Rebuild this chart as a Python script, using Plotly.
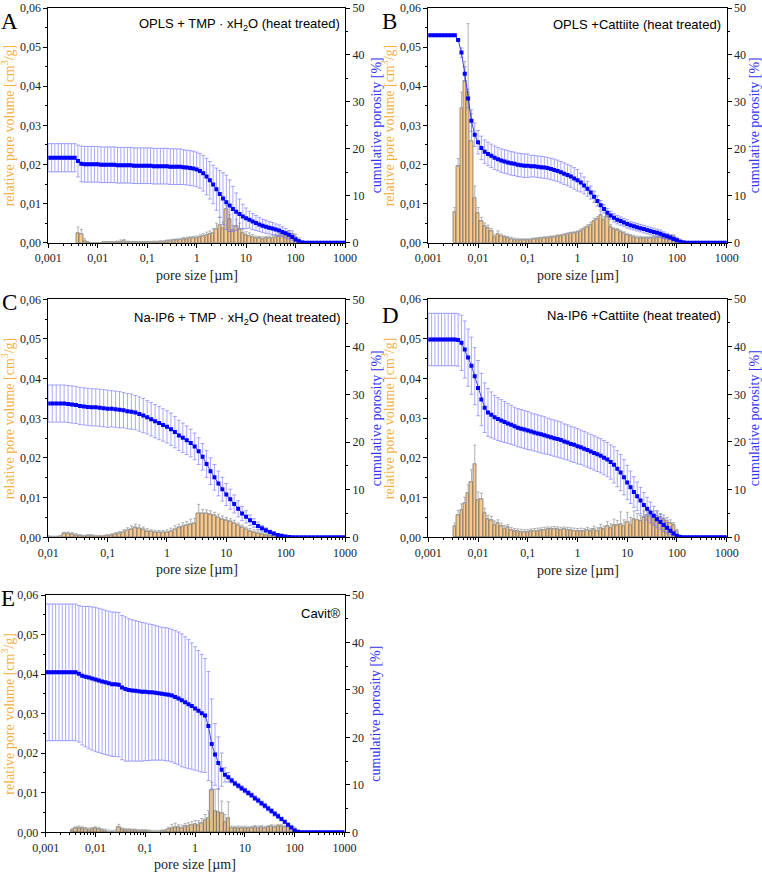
import plotly.graph_objects as go

W, H = 762, 872

# ---------------- categories (pore-size bins, 15 per decade) ----------------
pore_size = [10 ** (-3 + k / 15) for k in range(91)]

x_tick_vals = [0.001, 0.01, 0.1, 1, 10, 100, 1000]
x_tick_text = ["0,001", "0,01", "0,1", "1", "10", "100", "1000"]
vol_tick_vals = [0, 0.01, 0.02, 0.03, 0.04, 0.05, 0.06]
vol_tick_text = ["0,00", "0,01", "0,02", "0,03", "0,04", "0,05", "0,06"]
por_tick_vals = [0, 10, 20, 30, 40, 50]

letters = ["A", "B", "C", "D", "E"]
titles = [
    "OPLS + TMP · xH<sub>2</sub>O (heat treated)",
    "OPLS +Cattiite (heat treated)",
    "Na-IP6 + TMP · xH<sub>2</sub>O (heat treated)",
    "Na-IP6 +Cattiite (heat treated)",
    "Cavit®",
]

# ---------------- A ----------------
A_cum_start = 0
A_cum = [18.1] * 9 + [17.4, 16.8] + [16.7] * 5 + [16.6] * 5 + [16.5] * 5 + [16.4] * 5 + \
    [16.4, 16.3, 16.3, 16.3, 16.3, 16.3, 16.2, 16.2, 16.2, 16.2] + \
    [16.1, 16.0, 15.9, 15.8, 15.6, 15.3, 14.8, 14.1, 13.3, 12.4, 11.4, 10.4, 9.4, 8.6, 7.9,
     7.2, 6.6, 6.1, 5.6, 5.2, 4.9, 4.5, 4.2, 3.9, 3.6, 3.4, 3.2, 3.0, 2.8, 2.6, 2.3, 2.0,
     1.7, 1.2, 0.7, 0.3, 0.05] + [0] * 13
A_cum_err = [3.0] * 9 + [3.4] + [3.8] * 31 + [3.7] * 5 + [3.7, 3.8, 3.9, 4.0, 4.1] + \
    [4.5, 5.0, 5.5, 5.8, 5.5, 4.8, 4.0, 3.2, 2.6, 2.2] + \
    [1.8, 1.7, 1.6, 1.5, 1.4, 1.4, 1.3, 1.3, 1.2, 1.2, 1.1, 1.0, 0.9, 0.7, 0.4, 0.2, 0.1] + [0] * 13
A_bar_start = 9
A_bar = [0.0025, 0.0022, 0.0005, 0.0001, 0, 0, 0, 0, 0.0001, 0.0001, 0.0001, 0.0001,
         0.0002, 0.0003, 0.0004, 0.0002, 0.0001, 0.0001, 0.0001, 0.0001, 0.0001, 0.0001,
         0.0001, 0.0002, 0.0002, 0.0003, 0.0003, 0.0004, 0.0005, 0.0006, 0.0007, 0.0008,
         0.0009, 0.0010, 0.0011, 0.0012, 0.0013, 0.0015, 0.0017, 0.0020, 0.0022, 0.0026,
         0.0035, 0.0045, 0.0038, 0.0087, 0.0060, 0.0032, 0.0042, 0.0035, 0.0025, 0.0020,
         0.0018, 0.0015, 0.0012, 0.0011, 0.0010, 0.0011, 0.0012, 0.0013, 0.0015, 0.0017,
         0.0020, 0.0021, 0.0022, 0.0021, 0.0015, 0.0008, 0.0003]
A_bar_err = [0.0015, 0.0012, 0.0005, 0.0001, 0, 0, 0, 0] + [0.0001] * 4 + \
    [0.0002, 0.0004, 0.0004, 0.0002] + [0.0001] * 7 + [0.0002] * 4 + [0.0003] * 5 + [0.0004] * 5 + \
    [0.0005, 0.0006, 0.0007, 0.0008, 0.001, 0.0015, 0.002, 0.0015, 0.0008, 0.0012, 0.0012,
     0.0018, 0.0015, 0.001, 0.0008, 0.0007, 0.0006] + [0.0005] * 5 + [0.0006] * 5 + \
    [0.0008, 0.0009, 0.0007, 0.0004, 0.0002]

# ---------------- B ----------------
B_cum_start = 0
B_cum = [44.2] * 9 + [43.2, 40.5, 36.0, 30.7, 26.0, 23.0, 21.4, 20.2, 19.4, 18.9, 18.5, 18.1,
                      17.8, 17.5, 17.3, 17.1, 16.9, 16.8, 16.6, 16.5, 16.4, 16.4, 16.3, 16.3,
                      16.2, 16.1, 16.0, 15.9, 15.7, 15.5, 15.3, 15.0, 14.7, 14.4, 14.1, 13.7,
                      13.3, 12.8, 12.2, 11.5, 10.7, 9.8, 8.9, 8.0, 7.2, 6.4, 5.8, 5.3, 4.9,
                      4.6, 4.3, 4.0, 3.7, 3.5, 3.3, 3.1, 2.9, 2.7, 2.5, 2.3, 2.1, 1.9, 1.6,
                      1.4, 1.1, 0.8, 0.5, 0.2, 0.05] + [0] * 13
B_cum_err = [0] * 10 + [1.0, 1.5, 2.0, 2.3, 2.5] + [2.5] * 16 + [2.3] * 15 + \
    [2.0, 1.8, 1.6, 1.4, 1.2, 1.1, 1.0] + [0.9] * 8 + [0.8] * 10 + \
    [0.7, 0.6, 0.5, 0.4, 0.3, 0.2, 0.1] + [0] * 13
B_bar_start = 8
B_bar = [0.0078, 0.0195, 0.0345, 0.0413, 0.0385, 0.0260, 0.0115, 0.0075, 0.0055, 0.0042,
         0.0038, 0.0030, 0.0015, 0.0022, 0.0018, 0.0014, 0.0012, 0.0010, 0.0008, 0.0007,
         0.0006, 0.0006, 0.0007, 0.0008, 0.0009, 0.0010, 0.0011, 0.0012, 0.0013, 0.0014,
         0.0015, 0.0017, 0.0018, 0.0020, 0.0022, 0.0024, 0.0025, 0.0027, 0.0030, 0.0035,
         0.0040, 0.0045, 0.0055, 0.0060, 0.0070, 0.0058, 0.0068, 0.0040, 0.0034, 0.0032,
         0.0028, 0.0024, 0.0020, 0.0017, 0.0015, 0.0013, 0.0012, 0.0011, 0.0011, 0.0011,
         0.0012, 0.0013, 0.0014, 0.0015, 0.0016, 0.0017, 0.0016, 0.0010, 0.0005, 0.0002]
B_bar_err = [0.0012, 0.002, 0.004, 0.005, 0.0175, 0.007, 0.003, 0.0015, 0.001, 0.0008,
             0.0007, 0.0006, 0.0005, 0.0008] + [0.0004] * 8 + [0.0003] * 16 + \
    [0.0005, 0.0005, 0.0006, 0.0007, 0.0008, 0.0007, 0.0010, 0.0008, 0.0009, 0.0006] + [0.0004] * 22

# ---------------- C ----------------
C_cum_start = 15
C_cum = [28.1] * 5 + [28.0, 27.9, 27.8, 27.6, 27.5, 27.4, 27.3, 27.3, 27.2, 27.1, 27.0, 27.0,
                      26.9, 26.8, 26.7, 26.5, 26.4, 26.2, 25.9, 25.6, 25.2, 24.8, 24.4, 24.0,
                      23.6, 23.2, 22.7, 22.1, 21.4, 20.9, 20.4, 19.8, 19.1, 18.1, 16.9, 15.4,
                      13.9, 12.6, 11.3, 10.1, 9.0, 8.0, 7.0, 6.0, 5.0, 4.3, 3.6, 3.0, 2.4, 1.9,
                      1.5, 1.1, 0.8, 0.5, 0.3, 0.15, 0.05] + [0] * 14
C_cum_err = [3.9] * 16 + [3.8, 3.8, 3.8, 3.7, 3.7, 3.7, 3.6, 3.6, 3.6, 3.5, 3.5, 3.5, 3.5, 3.4, 3.4] + \
    [3.4, 3.3, 3.2, 3.1, 3.0, 2.9, 2.8, 2.8, 2.8, 2.8] + [2.8, 2.7, 2.6, 2.5, 2.3, 2.1, 1.9, 1.7] + \
    [1.5, 1.3, 1.1, 0.9, 0.8, 0.6, 0.5] + [0.4, 0.3, 0.2, 0.2, 0.1, 0.05] + [0] * 14
C_bar_start = 15
C_bar = [0.0002, 0.0001, 0.0001, 0.0002, 0.0009, 0.0009, 0.0008, 0.0005, 0.0004, 0.0003,
         0.0004, 0.0004, 0.0003, 0.0003, 0.0003, 0.0004, 0.0006, 0.0008, 0.0010, 0.0013,
         0.0017, 0.0021, 0.0024, 0.0023, 0.0019, 0.0016, 0.0014, 0.0013, 0.0012, 0.0012,
         0.0013, 0.0016, 0.0021, 0.0024, 0.0027, 0.0030, 0.0034, 0.0036, 0.0061, 0.0060,
         0.0060, 0.0058, 0.0055, 0.0050, 0.0046, 0.0043, 0.0040, 0.0036, 0.0030, 0.0025,
         0.0020, 0.0016, 0.0013, 0.0010, 0.0008, 0.0006, 0.0005, 0.0004, 0.0004, 0.0003,
         0.0002, 0.0001]
C_bar_err = [0.0002] * 4 + [0.0004] * 4 + [0.0002] * 8 + \
    [0.0003, 0.0004, 0.0005, 0.0006, 0.0007, 0.0008, 0.0009, 0.0008, 0.0007, 0.0006] + \
    [0.0005] * 4 + [0.0006, 0.0007, 0.0008, 0.0009, 0.001, 0.001, 0.0012, 0.0012] + \
    [0.0022, 0.0010, 0.0009, 0.0009, 0.0008, 0.0008, 0.0008, 0.0007, 0.0007, 0.0007] + \
    [0.0006] * 6 + [0.0005] * 4 + [0.0003] * 4

# ---------------- D ----------------
D_cum_start = 0
D_cum = [41.5] * 9 + [41.4, 40.8, 39.4, 37.7, 36.0, 33.8, 31.3, 28.9, 27.2, 26.2, 25.7, 25.2,
                      24.8, 24.5, 24.2, 23.9, 23.6, 23.3, 23.0, 22.8, 22.6, 22.4, 22.2, 22.0,
                      21.8, 21.6, 21.4, 21.2, 21.0, 20.8, 20.6, 20.4, 20.1, 19.9, 19.6, 19.4,
                      19.1, 18.9, 18.6, 18.3, 18.0, 17.7, 17.4, 17.1, 16.7, 16.3, 15.8, 15.2,
                      14.4, 13.6, 12.6, 11.5, 10.5, 9.5, 8.6, 7.7, 6.8, 6.0, 5.2, 4.5, 3.8,
                      3.2, 2.6, 2.0, 1.4, 0.8, 0.3, 0.05] + [0] * 14
D_cum_err = [5.5] * 10 + [5.8, 6.0, 6.0, 6.0, 6.0, 5.8] + [5.5, 5.2, 5.0, 4.8, 4.6] + \
    [4.5, 4.4, 4.3, 4.2, 4.1, 4.0, 4.0, 4.0, 4.0, 4.0] + [3.9] * 5 + [3.8] * 5 + [3.7] * 5 + \
    [3.6] * 10 + [3.8, 3.8, 3.8, 3.7, 3.6] + [3.4, 3.2, 3.0, 2.8, 2.6, 2.4, 2.2, 2.0, 1.8, 1.6] + \
    [1.4, 1.1, 0.8, 0.5, 0.2, 0.05] + [0] * 14
D_bar_start = 8
D_bar = [0.0028, 0.0056, 0.0069, 0.0086, 0.0112, 0.0140, 0.0185, 0.0094, 0.0096, 0.0061,
         0.0045, 0.0043, 0.0032, 0.0035, 0.0028, 0.0022, 0.0025, 0.0018, 0.0016, 0.0015,
         0.0014, 0.0013, 0.0014, 0.0015, 0.0016, 0.0017, 0.0018, 0.0019, 0.0020, 0.0020,
         0.0021, 0.0020, 0.0019, 0.0020, 0.0019, 0.0018, 0.0017, 0.0016, 0.0017, 0.0016,
         0.0018, 0.0016, 0.0020, 0.0017, 0.0024, 0.0020, 0.0028, 0.0024, 0.0031, 0.0030,
         0.0034, 0.0029, 0.0038, 0.0032, 0.0046, 0.0044, 0.0040, 0.0052, 0.0055, 0.0053,
         0.0056, 0.0054, 0.0050, 0.0047, 0.0042, 0.0036, 0.0030, 0.0015, 0.0004]
D_bar_err = [0.0008, 0.0012, 0.0015, 0.0015, 0.002, 0.003, 0.0047, 0.002, 0.0015, 0.0012] + \
    [0.0010, 0.0010, 0.0009, 0.0009, 0.0008, 0.0008, 0.0007, 0.0007, 0.0006, 0.0006] + [0.0006] * 20 + \
    [0.0007, 0.0006, 0.0008, 0.0007, 0.0009, 0.0008, 0.0012, 0.0010, 0.0015, 0.0012] + \
    [0.0030, 0.0015, 0.0025, 0.0018, 0.0020, 0.0016, 0.0015, 0.0014, 0.0012, 0.0012] + \
    [0.0010, 0.0010, 0.0010, 0.0009, 0.0008, 0.0008, 0.0007, 0.0005, 0.0002]

# ---------------- E ----------------
E_cum_start = 0
E_cum = [33.7] * 10 + [33.4, 33.0, 32.8, 32.6, 32.4, 32.2, 32.0, 31.8, 31.6, 31.4, 31.2, 31.2,
                       31.1, 30.5, 30.2, 30.0, 29.9, 29.8, 29.7, 29.6, 29.6, 29.5, 29.5, 29.4,
                       29.3, 29.2, 29.1, 29.0, 28.8, 28.5, 28.2, 27.8, 27.4, 27.0, 26.6, 26.1,
                       25.6, 25.1, 24.6, 22.4, 18.6, 16.4, 14.6, 13.2, 12.1, 11.6, 10.9, 10.3,
                       9.8, 9.3, 8.8, 8.3, 7.8, 7.2, 6.7, 6.1, 5.6, 5.0, 4.5, 3.9, 3.4, 2.8,
                       2.2, 1.6, 1.0, 0.4, 0.05] + [0] * 14
E_cum_err = [14.4] * 10 + [14.4, 14.6, 14.8, 15.0, 15.1] + [15.2] * 10 + \
    [15.0, 14.9, 14.8, 14.7, 14.6, 14.5] + [14.4, 14.3, 14.2, 14.1] + [14.0] * 6 + \
    [14.0, 13.8, 13.6, 13.3, 13.0, 12.7, 12.4, 12.0, 11.5] + [9.5, 6.5, 5.5, 3.5, 1.5, 1.0] + \
    [0.5] * 15 + [0.4, 0.3, 0.3, 0.2, 0.1, 0.05] + [0] * 14
E_bar_start = 8
E_bar = [0.0005, 0.0010, 0.0012, 0.0010, 0.0008, 0.0007, 0.0008, 0.0010, 0.0008, 0.0005,
         0.0004, 0.0002, 0.0001, 0.0002, 0.0014, 0.0008, 0.0006, 0.0006, 0.0005, 0.0005,
         0.0004, 0.0004, 0.0004, 0.0003, 0.0002, 0.0002, 0.0002, 0.0003, 0.0004, 0.0008,
         0.0012, 0.0014, 0.0013, 0.0012, 0.0015, 0.0016, 0.0018, 0.0020, 0.0019, 0.0023,
         0.0030, 0.0035, 0.0107, 0.0054, 0.0052, 0.0049, 0.0025, 0.0037, 0.0012, 0.0011,
         0.0012, 0.0011, 0.0012, 0.0010, 0.0011, 0.0013, 0.0012, 0.0013, 0.0011, 0.0013,
         0.0015, 0.0014, 0.0016, 0.0015, 0.0014, 0.0015, 0.0014, 0.0009, 0.0003]
E_bar_err = [0.0004] * 14 + [0.0006] + [0.0003] * 14 + \
    [0.0005, 0.0008, 0.0009, 0.0006, 0.0006, 0.0007, 0.0008, 0.0009, 0.0010, 0.0010, 0.0012] + \
    [0.0015, 0.0020, 0.0020, 0.0055, 0.0058, 0.0030, 0.0020, 0.0040] + [0.0004] * 21

panels_data = [
    (A_cum_start, A_cum, A_cum_err, A_bar_start, A_bar, A_bar_err),
    (B_cum_start, B_cum, B_cum_err, B_bar_start, B_bar, B_bar_err),
    (C_cum_start, C_cum, C_cum_err, C_bar_start, C_bar, C_bar_err),
    (D_cum_start, D_cum, D_cum_err, D_bar_start, D_bar, D_bar_err),
    (E_cum_start, E_cum, E_cum_err, E_bar_start, E_bar, E_bar_err),
]

# ---------------- layout geometry (pixels) ----------------
# (x0, x1, ytop, ybottom, xrange_log, letter_x, letter_y, title_right, title_y, xtitle_y, ltitle_x, rtitle_x)
geom = [
    (48.3, 345.0, 8.0, 242.7, [-3, 3], 9.5, 21, 342, 24, 275, 8, 376),
    (428.3, 726.7, 8.0, 242.7, [-3, 3], 389.5, 21, 723, 24, 275, 388, 754),
    (48.3, 345.0, 299.3, 537.3, [-2, 3], 9.5, 303, 343, 318, 569, 8, 376),
    (428.3, 726.7, 299.0, 537.3, [-3, 3], 390, 315, 723, 315, 570, 388, 754),
    (45.7, 344.5, 595.0, 832.3, [-3, 3], 7.5, 598, 343, 613, 864, 8, 376),
]

bar_fill = ["#F6C88E", "#F6C88E", "#F6C88E", "#F6C88E", "#E4BE8B"]
HALF_BIN = 10 ** (1 / 30)   # half of a log bin (15 bins per decade)

minor_x = [m * 10 ** e for e in range(-3, 3) for m in range(2, 10)]

SERIF = "Liberation Serif"
SANS = "Liberation Sans"

fig = go.Figure()
layout = dict(
    width=W, height=H, autosize=False,
    margin=dict(l=0, r=0, t=0, b=0, pad=0, autoexpand=False),
    paper_bgcolor="white", plot_bgcolor="white",
    showlegend=False, bargap=0, barmode="overlay",
    annotations=[],
)


def px(x):
    return x / W


def py(y):
    return 1 - y / H


for i, (cs, cum, cerr, bs, bar, berr) in enumerate(panels_data):
    x0, x1, yt, yb, xr, lx, ly, tr, ty, xty, ltx, rtx = geom[i]
    xa = f"x{i + 1}"
    ya = f"y{2 * i + 1}"
    yb2 = f"y{2 * i + 2}"

    bx = pore_size[bs:bs + len(bar)]
    fig.add_trace(go.Bar(
        x=bx, y=bar,
        offset=[v / HALF_BIN - v for v in bx],
        width=[v * HALF_BIN - v / HALF_BIN for v in bx],
        xaxis=xa, yaxis=ya,
        marker=dict(color=bar_fill[i], line=dict(color="#505050", width=0.6)),
        error_y=dict(type="data", array=berr, arrayminus=[0] * len(berr), symmetric=False,
                     color="#A8A8A8", thickness=0.9, width=1.5),
    ))
    fig.add_trace(go.Scatter(
        x=pore_size[cs:cs + len(cum)], y=cum,
        xaxis=xa, yaxis=yb2, mode="lines+markers",
        line=dict(color="#1010E0", width=0.8),
        marker=dict(symbol="square", size=4, color="#0000FF"),
        error_y=dict(type="data", array=cerr, color="rgba(110,110,255,0.75)",
                     thickness=0.8, width=2),
    ))

    tickfont = dict(family=SERIF, size=12, color="#222222")
    xv = [v for v in x_tick_vals if v >= 10 ** xr[0]]
    xt = x_tick_text[len(x_tick_text) - len(xv):]
    layout[f"xaxis{i + 1}"] = dict(
        type="log", range=xr, domain=[px(x0), px(x1)], anchor=ya,
        showline=True, linecolor="black", linewidth=1, mirror=True,
        ticks="outside", ticklen=4, tickwidth=1, tickcolor="black",
        tickmode="array", tickvals=xv, ticktext=xt, tickfont=tickfont,
        minor=dict(tickmode="array", tickvals=[m for m in minor_x if m >= 10 ** xr[0]],
                   ticks="outside", ticklen=2, tickcolor="black"),
        showgrid=False, zeroline=False, automargin=False, ticklabeloverflow="allow",
    )
    layout[f"yaxis{2 * i + 1}"] = dict(
        range=[0, 0.06], domain=[py(yb), py(yt)], anchor=xa,
        showline=True, linecolor="black", linewidth=1,
        ticks="outside", ticklen=4, tickcolor="black",
        tickmode="array", tickvals=vol_tick_vals, ticktext=vol_tick_text, tickfont=tickfont,
        minor=dict(dtick=0.005, ticks="outside", ticklen=2, tickcolor="black"),
        showgrid=False, zeroline=False, automargin=False, ticklabeloverflow="allow",
    )
    layout[f"yaxis{2 * i + 2}"] = dict(
        range=[0, 50], overlaying=ya, anchor=xa, side="right",
        showline=True, linecolor="black", linewidth=1,
        ticks="outside", ticklen=4, tickcolor="black",
        tickmode="array", tickvals=por_tick_vals, tickfont=tickfont,
        minor=dict(dtick=5, ticks="outside", ticklen=2, tickcolor="black"),
        showgrid=False, zeroline=False, automargin=False, ticklabeloverflow="allow",
    )

    anns = layout["annotations"]
    anns.append(dict(text=letters[i], x=px(lx), y=py(ly), xref="paper", yref="paper",
                     xanchor="center", yanchor="middle", showarrow=False,
                     font=dict(family=SERIF, size=23, color="black")))
    anns.append(dict(text=titles[i], x=px(tr), y=py(ty), xref="paper", yref="paper",
                     xanchor="right", yanchor="middle", showarrow=False,
                     font=dict(family=SANS, size=13, color="black")))
    anns.append(dict(text="pore size [µm]", x=px((x0 + x1) / 2), y=py(xty), xref="paper",
                     yref="paper", xanchor="center", yanchor="middle", showarrow=False,
                     font=dict(family=SERIF, size=14, color="#222222")))
    anns.append(dict(text="relative pore volume [cm<sup>3</sup>/g]", x=px(ltx),
                     y=py((yt + yb) / 2), xref="paper", yref="paper", textangle=-90,
                     xanchor="center", yanchor="middle", showarrow=False,
                     font=dict(family=SERIF, size=14, color="#F5B041")))
    anns.append(dict(text="cumulative porosity [%]", x=px(rtx),
                     y=py((yt + yb) / 2), xref="paper", yref="paper", textangle=-90,
                     xanchor="center", yanchor="middle", showarrow=False,
                     font=dict(family=SERIF, size=14, color="#3333FF")))

fig.update_layout(**layout)
fig.write_html("out.html")
